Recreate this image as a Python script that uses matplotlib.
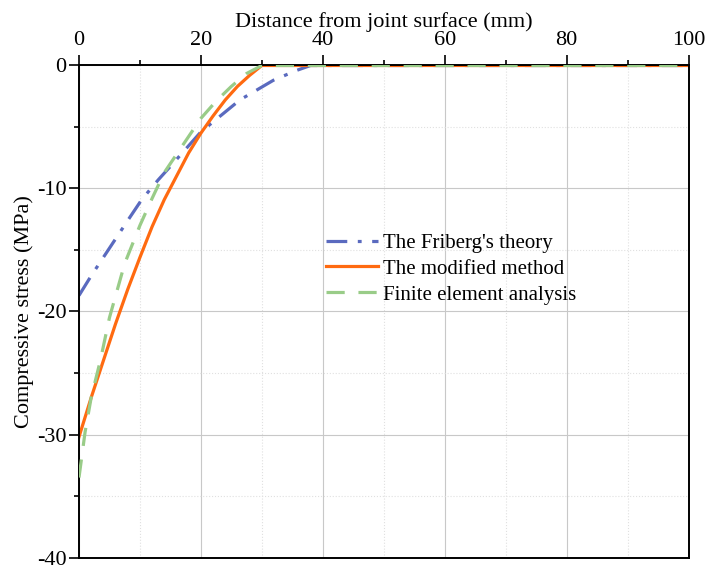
import matplotlib
matplotlib.use("Agg")
import matplotlib.pyplot as plt
from matplotlib.ticker import MultipleLocator

plt.rcParams['font.family'] = ['Liberation Serif', 'DejaVu Serif']
plt.rcParams['font.size'] = 16
plt.rcParams['axes.unicode_minus'] = False

# Friberg's theory
friberg_x = [0, 2, 4, 6, 8, 10.3, 13, 15, 20, 26.4, 31.9, 35.7, 38, 100]
friberg_y = [-18.7, -17.1, -15.6, -14.1, -12.6, -10.9, -9.3, -8.2, -5.4, -2.8, -1.2, -0.4, 0, 0]

# modified method
modified_x = [0, 2, 4, 6, 8, 10, 12, 14, 16, 18, 20, 22, 24, 26, 28, 30, 100]
modified_y = [-30.2, -27.0, -24.0, -21.0, -18.2, -15.6, -13.1, -10.9, -9.0, -7.1,
              -5.5, -4.1, -2.8, -1.7, -0.8, 0, 0]

# finite element analysis
fea_x = [0, 1, 2, 3.5, 5, 7.5, 10, 12, 14, 17, 20, 22.5, 25, 27.5, 30, 100]
fea_y = [-33.5, -29.8, -27.0, -24.0, -20.5, -16.1, -13.0, -10.8, -8.7, -6.5,
         -4.3, -2.9, -1.7, -0.65, 0, 0]

labels = ["The Friberg's theory", "The modified method", "Finite element analysis"]

fig = plt.figure(figsize=(7.09, 5.66), dpi=100, facecolor='white')
ax = fig.add_axes([0.1114, 0.015, 0.8597, 0.8693])

ax.plot(friberg_x, friberg_y, color='#5a6abf', lw=2.3,
        linestyle=(0, (6.5, 3.3, 1.2, 3.3)), label=labels[0], zorder=2)
ax.plot(modified_x, modified_y, color='#ff6a10', lw=2.3, label=labels[1], zorder=2)
ax.plot(fea_x, fea_y, color='#99cc88', lw=2.3,
        linestyle=(0, (5.7, 4.3)), label=labels[2], zorder=3)

ax.set_xlim(0, 100)
ax.set_ylim(-40, 0)
ax.xaxis.set_major_locator(MultipleLocator(20))
ax.xaxis.set_minor_locator(MultipleLocator(10))
ax.yaxis.set_major_locator(MultipleLocator(10))
ax.yaxis.set_minor_locator(MultipleLocator(5))

ax.xaxis.tick_top()
ax.xaxis.set_label_position('top')
ax.tick_params(axis='x', which='major', direction='out', length=7, width=1.2, pad=4)
ax.tick_params(axis='x', which='minor', direction='out', length=3.5, width=1.2)
ax.tick_params(axis='y', which='major', direction='out', length=7, width=1.2, pad=2)
ax.tick_params(axis='y', which='minor', direction='out', length=3.5, width=1.2)

ax.grid(which='major', color='#c8c8c8', lw=0.8, linestyle='-')
ax.grid(which='minor', color='#e0e0e0', lw=0.8, linestyle=':')
ax.set_axisbelow(True)

for sp in ax.spines.values():
    sp.set_linewidth(1.4)

ax.set_xlabel("Distance from joint surface (mm)", labelpad=3)
ax.set_ylabel("Compressive stress (MPa)", labelpad=2)

ax.legend(loc='upper left', bbox_to_anchor=(0.405, 0.659), frameon=False, fontsize=15,
          borderpad=0, borderaxespad=0, handlelength=2.5, handletextpad=0.25,
          labelspacing=0.3)

fig.savefig("out.png", dpi=100, facecolor='white')
